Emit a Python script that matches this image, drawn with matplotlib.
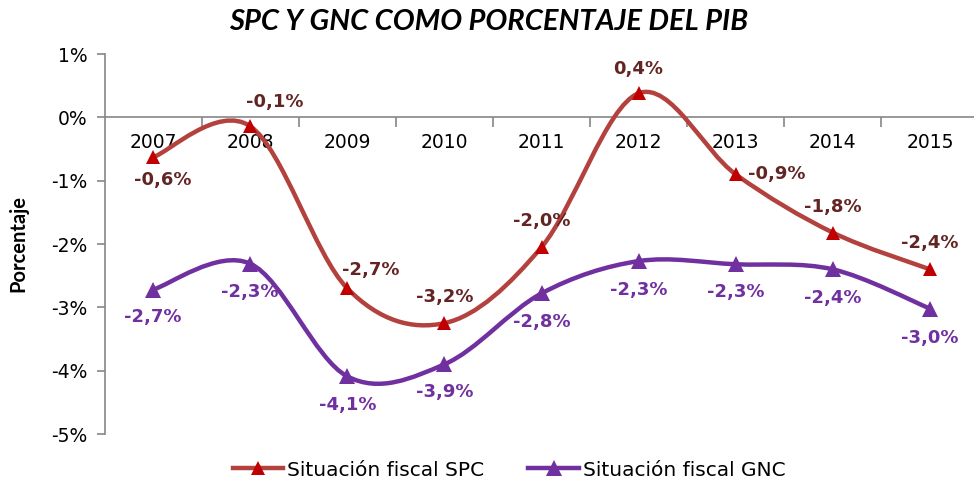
import numpy as np
import matplotlib
matplotlib.use("Agg")
import matplotlib.pyplot as plt
from matplotlib.path import Path
from matplotlib.patches import PathPatch
from matplotlib.lines import Line2D

years = ["2007", "2008", "2009", "2010", "2011", "2012", "2013", "2014", "2015"]
spc = [-0.63, -0.14, -2.70, -3.25, -2.05, 0.38, -0.90, -1.82, -2.40]
gnc = [-2.72, -2.31, -4.09, -3.90, -2.78, -2.27, -2.32, -2.40, -3.02]
spc_labels = ["-0,6%", "-0,1%", "-2,7%", "-3,2%", "-2,0%", "0,4%", "-0,9%", "-1,8%", "-2,4%"]
gnc_labels = ["-2,7%", "-2,3%", "-4,1%", "-3,9%", "-2,8%", "-2,3%", "-2,3%", "-2,4%", "-3,0%"]
yticks = [1, 0, -1, -2, -3, -4, -5]
ytick_labels = ["1%", "0%", "-1%", "-2%", "-3%", "-4%", "-5%"]

# label offsets in pixels (dx, dy up)
spc_off = [(10, -23), (25, 24), (23, 18), (0, 26), (0, 26), (0, 24), (41, 0), (0, 26), (0, 26)]
gnc_off = [(0, -27), (0, -28), (0, -29), (0, -28), (0, -29), (0, -29), (0, -28), (0, -29), (0, -29)]

SPC_LINE = "#B3423E"
SPC_MARK = "#C00000"
SPC_TEXT = "#632523"
GNC_COL = "#7030A0"

def smooth_path(xs, ys):
    pts = np.column_stack([xs, ys]).astype(float)
    n = len(pts)
    verts = [pts[0]]
    codes = [Path.MOVETO]
    for i in range(n - 1):
        p0 = pts[i - 1] if i > 0 else pts[i]
        p1 = pts[i]
        p2 = pts[i + 1]
        p3 = pts[i + 2] if i + 2 < n else pts[i + 1]
        c1 = p1 + (p2 - p0) / 6.0
        c2 = p2 - (p3 - p1) / 6.0
        verts += [c1, c2, p2]
        codes += [Path.CURVE4] * 3
    return Path(verts, codes)

W, H = 974, 482
fig = plt.figure(figsize=(W / 100, H / 100), dpi=100)
left = 104.5 / W
right = 978.5 / W
bottom = (H - 434) / H
top = (H - 54) / H
ax = fig.add_axes([left, bottom, right - left, top - bottom])
ax.set_xlim(-0.5, len(years) - 0.5)
ax.set_ylim(-5, 1)

x = np.arange(len(years))
for vals, lc, mc, ms in [(spc, SPC_LINE, SPC_MARK, 10), (gnc, GNC_COL, GNC_COL, 12)]:
    ax.add_patch(PathPatch(smooth_path(x, vals), facecolor="none", edgecolor=lc,
                           lw=3.2, capstyle="round", joinstyle="round", zorder=3))
    ax.plot(x, vals, linestyle="none", marker="^", color=mc, markersize=ms,
            markeredgewidth=0, zorder=4)

for xi, v, lab, (dx, dy) in zip(x, spc, spc_labels, spc_off):
    ax.annotate(lab, (xi, v), xytext=(dx * 0.72, dy * 0.72), textcoords="offset points",
                ha="center", va="center", fontsize=13, fontweight="bold", color=SPC_TEXT, zorder=5)
for xi, v, lab, (dx, dy) in zip(x, gnc, gnc_labels, gnc_off):
    ax.annotate(lab, (xi, v), xytext=(dx * 0.72, dy * 0.72), textcoords="offset points",
                ha="center", va="center", fontsize=13, fontweight="bold", color=GNC_COL, zorder=5)

# axes styling
for s in ["top", "right"]:
    ax.spines[s].set_visible(False)
ax.spines["bottom"].set_position(("data", 0))
ax.spines["bottom"].set_color("#868686")
ax.spines["left"].set_color("#868686")
ax.spines["bottom"].set_linewidth(1.2)
ax.spines["left"].set_linewidth(1.2)

ax.set_yticks(yticks)
ax.set_yticklabels(ytick_labels, fontsize=13.5)
ax.tick_params(axis="y", length=6, width=1.2, color="#868686", direction="out", pad=6)

ax.set_xticks(x)
ax.set_xticklabels(years, fontsize=13.5)
ax.tick_params(axis="x", which="major", length=0, pad=11)
ax.set_xticks(np.arange(0.5, len(years) - 0.5), minor=True)
ax.tick_params(axis="x", which="minor", length=7, width=1.2, color="#868686", direction="out")

fig.text(18 / W, 1 - 244 / H, "Porcentaje", rotation=90, ha="center", va="center",
         fontsize=14.5, fontweight="bold", family="Lato")
fig.text(489 / W, 1 - 22 / H, "SPC Y GNC COMO PORCENTAJE DEL PIB", ha="center", va="center",
         fontsize=21, fontweight="bold", style="italic", family="Lato")

handles = [
    Line2D([], [], color=SPC_LINE, lw=3.2, marker="^", markersize=10,
           markerfacecolor=SPC_MARK, markeredgewidth=0),
    Line2D([], [], color=GNC_COL, lw=3.2, marker="^", markersize=12,
           markerfacecolor=GNC_COL, markeredgewidth=0),
]
fig.legend(handles, ["Situación fiscal SPC", "Situación fiscal GNC"], loc="center",
           bbox_to_anchor=(509 / W, 1 - 470 / H), ncol=2, frameon=False, fontsize=14.5,
           handlelength=2.5, columnspacing=2.2, handletextpad=0.2)

fig.savefig("out.png", dpi=100)
